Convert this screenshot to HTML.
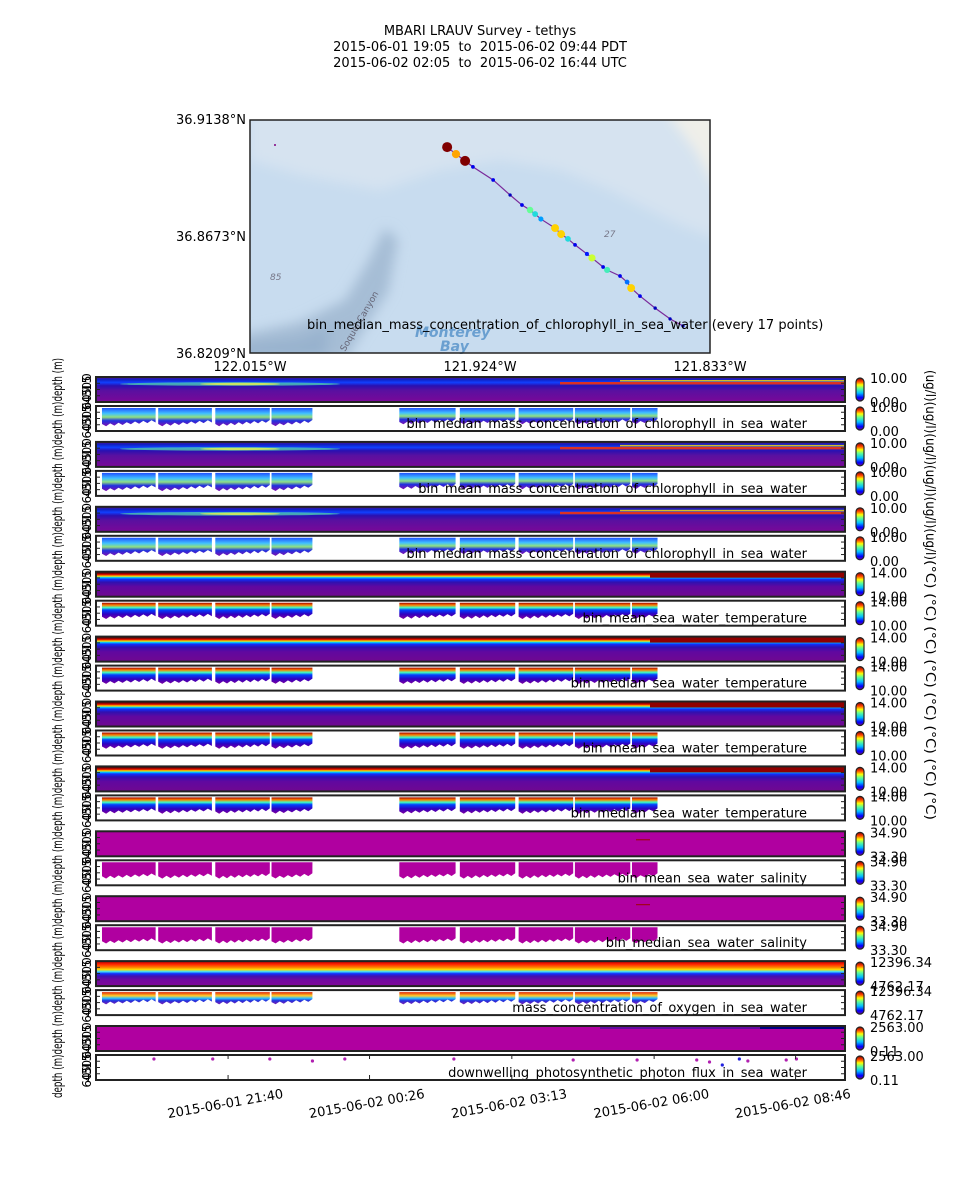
<!DOCTYPE html>
<html><head><meta charset="utf-8">
<style>
html,body{margin:0;padding:0;background:#fff;}
body{width:960px;height:1200px;overflow:hidden;font-family:"DejaVu Sans","Liberation Sans",sans-serif;}
svg text{font-family:"DejaVu Sans","Liberation Sans",sans-serif;white-space:pre;}
</style></head>
<body>
<svg id="fig" width="960" height="1200" xmlns="http://www.w3.org/2000/svg">
<defs>
<linearGradient id="jet" x1="0" y1="1" x2="0" y2="0">
<stop offset="0" stop-color="#6a00a0"/><stop offset="0.15" stop-color="#0000ff"/><stop offset="0.35" stop-color="#00c0ff"/><stop offset="0.55" stop-color="#60ff90"/><stop offset="0.7" stop-color="#ffff00"/><stop offset="0.85" stop-color="#ff4000"/><stop offset="1" stop-color="#800000"/>
</linearGradient>
<linearGradient id="g-chl" x1="0" y1="0" x2="0" y2="1">
<stop offset="0" stop-color="#5a0a90"/><stop offset="0.1" stop-color="#1020c0"/><stop offset="0.22" stop-color="#1040ff"/><stop offset="0.35" stop-color="#2a10b0"/><stop offset="0.55" stop-color="#5a10a0"/><stop offset="1" stop-color="#7a0898"/>
</linearGradient>
<linearGradient id="g-temp" x1="0" y1="0" x2="0" y2="1">
<stop offset="0" stop-color="#900000"/><stop offset="0.12" stop-color="#e01000"/><stop offset="0.18" stop-color="#ffe000"/><stop offset="0.23" stop-color="#00d0ff"/><stop offset="0.3" stop-color="#1030ff"/><stop offset="0.42" stop-color="#3010b0"/><stop offset="0.6" stop-color="#6008a0"/><stop offset="1" stop-color="#700890"/>
</linearGradient>
<linearGradient id="g-oxy" x1="0" y1="0" x2="0" y2="1">
<stop offset="0" stop-color="#b00000"/><stop offset="0.12" stop-color="#ff2000"/><stop offset="0.25" stop-color="#ff8000"/><stop offset="0.34" stop-color="#ffe000"/><stop offset="0.42" stop-color="#40e0ff"/><stop offset="0.5" stop-color="#1030ff"/><stop offset="0.6" stop-color="#4010b0"/><stop offset="0.75" stop-color="#7008a0"/><stop offset="1" stop-color="#800898"/>
</linearGradient>
<linearGradient id="s-chl" x1="0" y1="0" x2="0" y2="1">
<stop offset="0" stop-color="#2050ff"/><stop offset="0.3" stop-color="#40c0ff"/><stop offset="0.5" stop-color="#90e080"/><stop offset="0.7" stop-color="#2030e0"/><stop offset="1" stop-color="#8010b0"/>
</linearGradient>
<linearGradient id="s-temp" x1="0" y1="0" x2="0" y2="1">
<stop offset="0" stop-color="#a00000"/><stop offset="0.15" stop-color="#ff8000"/><stop offset="0.3" stop-color="#40ffc0"/><stop offset="0.45" stop-color="#0040ff"/><stop offset="0.7" stop-color="#3000c0"/><stop offset="1" stop-color="#8000a0"/>
</linearGradient>
<linearGradient id="s-oxy" x1="0" y1="0" x2="0" y2="1">
<stop offset="0" stop-color="#e02000"/><stop offset="0.3" stop-color="#ffd030"/><stop offset="0.5" stop-color="#30c0ff"/><stop offset="0.7" stop-color="#2030e0"/><stop offset="1" stop-color="#8020b0"/>
</linearGradient>
<filter id="blur3"><feGaussianBlur stdDeviation="6"/></filter>
<clipPath id="mapclip"><rect x="250" y="120" width="460" height="233"/></clipPath>
</defs>

<g font-size="13" text-anchor="middle" fill="#000">
<text x="480" y="35">MBARI LRAUV Survey - tethys</text>
<text x="480" y="51">2015-06-01 19:05  to  2015-06-02 09:44 PDT</text>
<text x="480" y="67">2015-06-02 02:05  to  2015-06-02 16:44 UTC</text>
</g>

<g id="map">
<rect x="250" y="120" width="460" height="233" fill="#c8dcef"/>
<g clip-path="url(#mapclip)">
<g filter="url(#blur3)">
<path d="M250,110 L720,110 L720,240 L680,225 L610,190 L560,170 L500,160 L440,170 L380,190 L300,175 L250,160 Z" fill="#d6e3f0"/>
<path d="M665,110 L720,110 L720,195 L695,150 Z" fill="#efefe9"/>
<path d="M240,360 L240,335 L300,322 L345,300 L368,262 L385,228 L398,240 L388,292 L362,332 L345,360 Z" fill="#a6bdd5"/>
<path d="M240,360 L240,345 L300,338 L330,325 L325,360 Z" fill="#98b2ce"/>
</g>
</g>
<text x="270" y="280" font-size="9" font-style="italic" fill="#778">85</text>
<text x="604" y="237" font-size="9" font-style="italic" fill="#778">27</text>
<text x="415" y="337" font-size="14" font-style="italic" font-weight="bold" fill="#6a9fd0">Monterey</text>
<text x="440" y="351" font-size="14" font-style="italic" font-weight="bold" fill="#6a9fd0">Bay</text>
<text x="345" y="352" font-size="9" fill="#667" transform="rotate(-60 345 352)">Soquel Canyon</text>
<g id="trackg"></g>
<rect x="250" y="120" width="460" height="233" fill="none" stroke="#222" stroke-width="1.5"/>
<text x="307" y="329" font-size="13">bin_median_mass_concentration_of_chlorophyll_in_sea_water (every 17 points)</text>
<g font-size="13" text-anchor="end">
<text x="246" y="124">36.9138°N</text>
<text x="246" y="241">36.8673°N</text>
<text x="246" y="358">36.8209°N</text>
</g>
<g font-size="13" text-anchor="middle">
<text x="250" y="371">122.015°W</text>
<text x="480" y="371">121.924°W</text>
<text x="710" y="371">121.833°W</text>
</g>
</g>

<g id="panels"></g>
<g id="axes"></g>
</svg>

<script>
// ---- data ----
const panelTitles = ["bin_median_mass_concentration_of_chlorophyll_in_sea_water","bin_mean_mass_concentration_of_chlorophyll_in_sea_water","bin_median_mass_concentration_of_chlorophyll_in_sea_water","bin_mean_sea_water_temperature","bin_median_sea_water_temperature","bin_mean_sea_water_temperature","bin_median_sea_water_temperature","bin_mean_sea_water_salinity","bin_median_sea_water_salinity","mass_concentration_of_oxygen_in_sea_water","downwelling_photosynthetic_photon_flux_in_sea_water"];
const panelKinds = ["chl","chl","chl","temp","temp","temp","temp","sal","sal","oxy","par"];
const cbMax = ["10.00","10.00","10.00","14.00","14.00","14.00","14.00","34.90","34.90","12396.34","2563.00"];
const cbMin = ["0.00","0.00","0.00","10.00","10.00","10.00","10.00","33.30","33.30","4762.17","0.11"];
const depthTicks = ["0","15","30","45","60"];
const timeTickLabels = ["2015-06-01 21:40","2015-06-02 00:26","2015-06-02 03:13","2015-06-02 06:00","2015-06-02 08:46"];
const timeTickMinutes = [155,321,488,655,821]; // minutes since 19:05
const segStart = [7,73,140,206,356,427,496,562,629];
const segEnd = [70,136,204,254,422,492,560,627,659];
const parDotTimes = [68,137,204,254,292,420,560,635,705,720,735,755,765,810,822];
const parDotDepths = [2,2,2,4,2,2,3,3,3,5,8,2,4,3,2];
const trackLon = [-121.9370,-121.9335,-121.9299,-121.9268,-121.9188,-121.9121,-121.9074,-121.9042,-121.9022,-121.8999,-121.8943,-121.8919,-121.8892,-121.8864,-121.8817,-121.8797,-121.8753,-121.8737,-121.8686,-121.8658,-121.8642,-121.8607,-121.8547,-121.8488,-121.8437];
const trackLat = [36.9030,36.9002,36.8975,36.8951,36.8899,36.8839,36.8799,36.8779,36.8763,36.8743,36.8707,36.8683,36.8664,36.8640,36.8604,36.8588,36.8552,36.8540,36.8516,36.8492,36.8468,36.8436,36.8388,36.8345,36.8317];
const trackChl = [10,7.5,10,1,1,0.5,1,5,4,3,7,7,4,1,1.5,6,1,4.5,1,2.5,7,1,0.5,0.5,0.5];

// ---- helpers ----
const NS="http://www.w3.org/2000/svg";
function mk(tag, attrs, parent){const e=document.createElementNS(NS,tag);for(const k in attrs)e.setAttribute(k,attrs[k]);parent.appendChild(e);return e;}
const X0=96, X1=845, MIN0=0, MIN1=879;
function xOf(m){return X0+(m-MIN0)/(MIN1-MIN0)*(X1-X0);}
function lonX(l){return 250+(l+122.015)/(0.182)*460;}
function latY(l){return 353-(l-36.8209)/(0.0929)*233;}
function jet(v){const t=Math.max(0,Math.min(1,v/10));const stops=[[0,[0,0,140]],[0.12,[0,0,255]],[0.35,[0,200,255]],[0.5,[100,255,150]],[0.65,[255,255,0]],[0.8,[255,120,0]],[0.9,[220,0,0]],[1,[128,0,0]]];for(let i=1;i<stops.length;i++){if(t<=stops[i][0]){const a=stops[i-1],b=stops[i],f=(t-a[0])/(b[0]-a[0]);return "rgb("+a[1].map((c,j)=>Math.round(c+(b[1][j]-c)*f)).join(",")+")";}}return "rgb(128,0,0)";}

// ---- map track ----
const tg=document.getElementById('trackg');
mk('polyline',{points:trackLon.map((l,i)=>lonX(l)+","+latY(trackLat[i])).join(" "),fill:"none",stroke:"#7a2a9a","stroke-width":1.2},tg);
mk('circle',{cx:275,cy:145,r:1,fill:"#800080"},tg);
trackLon.forEach((l,i)=>{
  const c=mk('circle',{cx:lonX(l),cy:latY(trackLat[i]),r:1.5+trackChl[i]*0.35,fill:jet(trackChl[i])},tg);
  
  
});

// ---- panels ----
const pg=document.getElementById('panels');
const PH=25;
function pairTop(k){return 377+64.9*k;}
function zig(x1,x2,top,bL,bR){
  let pts=`${x1},${top} ${x2},${top} `;
  const n=Math.max(2,Math.round((x2-x1)/4));
  for(let j=n;j>=0;j--){const x=x1+(x2-x1)*j/n;const b=bL+(bR-bL)*j/n+(j%2?1.5:-1);pts+=`${x.toFixed(1)},${b.toFixed(1)} `;}
  return pts;
}
panelKinds.forEach((kind,k)=>{
  const t=pairTop(k), s=t+29;
  const cg=mk('g',{},pg);
  
  
  let fill = kind==="chl"?"url(#g-chl)":kind==="temp"?"url(#g-temp)":kind==="oxy"?"url(#g-oxy)":"#b000a0";
  mk('rect',{x:X0,y:t,width:X1-X0,height:PH,fill:fill},cg);
  if(kind==="chl"){
    mk('ellipse',{cx:230,cy:t+7,rx:110,ry:1.8,fill:"#60ffa0",opacity:0.6},cg);
    mk('ellipse',{cx:240,cy:t+7,rx:40,ry:1.2,fill:"#ffff40",opacity:0.7},cg);
    mk('rect',{x:560,y:t+5,width:285,height:2.5,fill:"#ff3000",opacity:0.85},cg);
    mk('rect',{x:620,y:t+3,width:225,height:1.5,fill:"#ffe000",opacity:0.8},cg);
  } else if(kind==="temp"){
    mk('rect',{x:X0,y:t,width:X1-X0,height:2,fill:"#700000"},cg);
    mk('rect',{x:650,y:t,width:195,height:6,fill:"#900000"},cg);
  } else if(kind==="par"){
    mk('rect',{x:600,y:t,width:245,height:3,fill:"#3010a0",opacity:0.6},cg);
    mk('rect',{x:760,y:t,width:85,height:3,fill:"#000080"},cg);
  } else if(kind==="sal"){
    mk('rect',{x:636,y:t+8,width:14,height:1,fill:"#a00000"},cg);
  }
  mk('rect',{x:X0,y:t,width:X1-X0,height:PH,fill:"none",stroke:"#222","stroke-width":2},cg);
  const sg=mk('g',{},pg);
  
  
  mk('rect',{x:X0,y:s,width:X1-X0,height:PH,fill:"#fff"},sg);
  if(kind==="par"){
    parDotTimes.forEach((m,i)=>{
      const d=mk('circle',{cx:xOf(m),cy:s+2+parDotDepths[i],r:1.6,fill:i>9&&i<12?"#2020e0":"#b020b0"},sg);
      
      
    });
  } else {
    const sf = kind==="chl"?"url(#s-chl)":kind==="temp"?"url(#s-temp)":kind==="oxy"?"url(#s-oxy)":"#b000a0";
    segStart.forEach((m,i)=>{
      const x1=xOf(m), x2=xOf(segEnd[i]);
      let top=s+2, bL=s+(kind==="oxy"?13:17), bR=s+(kind==="oxy"?10:14);
      if(kind==="chl" && i<4){bL=s+19;bR=s+15;}
      const p=mk('polygon',{points:zig(x1,x2,top,bL,bR),fill:sf},sg);
      
      
    });
  }
  const tt=mk('text',{x:807,y:s+22,"font-size":13,"text-anchor":"end",fill:"#000"},sg);
  tt.textContent=panelTitles[k];
  
  
  mk('rect',{x:X0,y:s,width:X1-X0,height:PH,fill:"none",stroke:"#222","stroke-width":2},sg);

  [t,s].forEach(py=>{
    depthTicks.forEach((lab,j)=>{
      const yy=py+j*PH/4;
      mk('line',{x1:X0,y1:yy,x2:X0+4,y2:yy,stroke:"#222"},pg);
      mk('line',{x1:X1,y1:yy,x2:X1-4,y2:yy,stroke:"#222"},pg);
      const lt=mk('text',{x:0,y:0,"font-size":12,"text-anchor":"middle",transform:`translate(91 ${yy}) rotate(-90)`},pg);
      lt.textContent=lab;
    });
    const cb=mk('g',{},pg);
    
    
    mk('rect',{x:856,y:py+1,width:8,height:PH-2,rx:4,fill:"url(#jet)",stroke:"#222","stroke-width":1.2},cb);
    const a=mk('text',{x:870,y:py+6,"font-size":13},cb); a.textContent=cbMax[k];
    const b=mk('text',{x:870,y:py+PH+5,"font-size":13},cb); b.textContent=cbMin[k];
  });
});

// ---- axis labels ----
const ax=document.getElementById('axes');
const yl=mk('text',{x:0,y:0,"font-size":13,"text-anchor":"middle",transform:"translate(62 728) rotate(-90)"},ax);
yl.textContent="depth (m)depth (m)depth (m)depth (m)depth (m)depth (m)depth (m)depth (m)depth (m)depth (m)depth (m)depth (m)depth (m)depth (m)depth (m)depth (m)depth (m)";


yl.setAttribute('textLength','740');
yl.setAttribute('lengthAdjust','spacingAndGlyphs');
const u1=mk('text',{x:0,y:0,"font-size":13,"text-anchor":"middle",transform:"translate(926 465) rotate(90)"},ax);
u1.textContent="(ug/l)(ug/l)(ug/l)(ug/l)(ug/l)(ug/l)";
u1.setAttribute('textLength','190');
u1.setAttribute('lengthAdjust','spacingAndGlyphs');


const u2=mk('text',{x:0,y:0,"font-size":13,"text-anchor":"middle",transform:"translate(926 690) rotate(90)"},ax);
u2.textContent="(°C) (°C) (°C) (°C) (°C) (°C) (°C) (°C)";
u2.setAttribute('textLength','260');
u2.setAttribute('lengthAdjust','spacingAndGlyphs');



const lastBottom=pairTop(10)+29+PH;
timeTickMinutes.forEach((m,i)=>{
  const x=xOf(m);
  mk('line',{x1:x,y1:lastBottom,x2:x,y2:lastBottom-5,stroke:"#222"},ax);
  mk('line',{x1:x,y1:lastBottom-PH,x2:x,y2:lastBottom-PH+4,stroke:"#222"},ax);
  const tl=mk('text',{x:0,y:0,"font-size":13,"text-anchor":"middle",transform:`translate(${x-2} 1108) rotate(-10)`},ax);
  tl.textContent=timeTickLabels[i];
  
  
});
</script>
</body></html>
